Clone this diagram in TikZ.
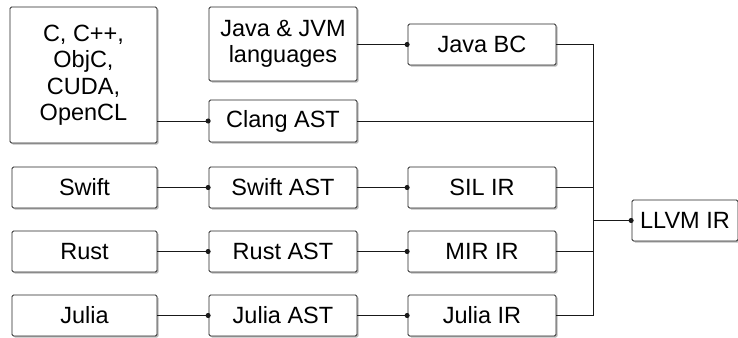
\documentclass[tikz,border=0pt]{standalone}
\usepackage{fontspec}
\setmainfont{Liberation Sans}
\usetikzlibrary{shadows,arrows.meta}
\begin{document}
\begin{tikzpicture}[x=1pt,y=-1pt,
  box/.style={draw=black!85, line width=0.8pt, fill=white, rounded corners=1.5pt,
    drop shadow={shadow xshift=1.6pt, shadow yshift=-1.6pt, opacity=0.45, fill=black!60},
    inner sep=0pt, align=center, font=\fontsize{23.5}{26.5}\selectfont},
  conn/.style={line width=0.8pt, black!90},
  dot/.style={conn, -{Circle[length=5pt, sep=-2pt]}}]
\useasboundingbox (0,0) rectangle (738,337);
\node[box, minimum width=147pt, minimum height=136pt] (c) at (83.5,75) {C, C++,\\ObjC,\\CUDA,\\OpenCL};
\node[box, minimum width=148pt, minimum height=74pt] (java) at (283,44) {Java \& JVM\\languages};
\node[box, minimum width=148pt, minimum height=41pt] (javabc) at (482,44.5) {Java BC};
\node[box, minimum width=148pt, minimum height=42pt] (clang) at (283,121) {Clang AST};
\node[box, minimum width=145pt, minimum height=41pt] (swift) at (84.5,187.5) {Swift};
\node[box, minimum width=148pt, minimum height=41pt] (swiftast) at (283,187.5) {Swift AST};
\node[box, minimum width=148pt, minimum height=41pt] (sil) at (482,187.5) {SIL IR};
\node[box, minimum width=145pt, minimum height=41pt] (rust) at (84.5,251.5) {Rust};
\node[box, minimum width=148pt, minimum height=41pt] (rustast) at (283,251.5) {Rust AST};
\node[box, minimum width=148pt, minimum height=41pt] (mir) at (482,251.5) {MIR IR};
\node[box, minimum width=145pt, minimum height=41pt] (julia) at (84.5,315.5) {Julia};
\node[box, minimum width=148pt, minimum height=41pt] (juliaast) at (283,315.5) {Julia AST};
\node[box, minimum width=148pt, minimum height=41pt] (juliair) at (482,315.5) {Julia IR};
\node[box, minimum width=106pt, minimum height=41pt] (llvm) at (685,220.5) {LLVM IR};
\coordinate (bt) at (593,44.5);
\coordinate (bb) at (593,315.5);
\coordinate (bm) at (593,220.5);
% left-to-middle connectors
\draw[dot] (java.east |- javabc.west) -- (javabc.west);
\draw[dot] (c.east |- clang.west) -- (clang.west);
\draw[dot] (swift) -- (swiftast);
\draw[dot] (rust) -- (rustast);
\draw[dot] (julia) -- (juliaast);
\draw[dot] (swiftast) -- (sil);
\draw[dot] (rustast) -- (mir);
\draw[dot] (juliaast) -- (juliair);
% bus
\draw[conn] (javabc.east) -- (bt) -- (bb) -- (juliair.east);
\draw[conn] (clang.east) -- (clang.east -| bt);
\draw[conn] (sil.east) -- (sil.east -| bt);
\draw[conn] (mir.east) -- (mir.east -| bt);
\draw[dot] (bm) -- (llvm.west);
\end{tikzpicture}
\end{document}
